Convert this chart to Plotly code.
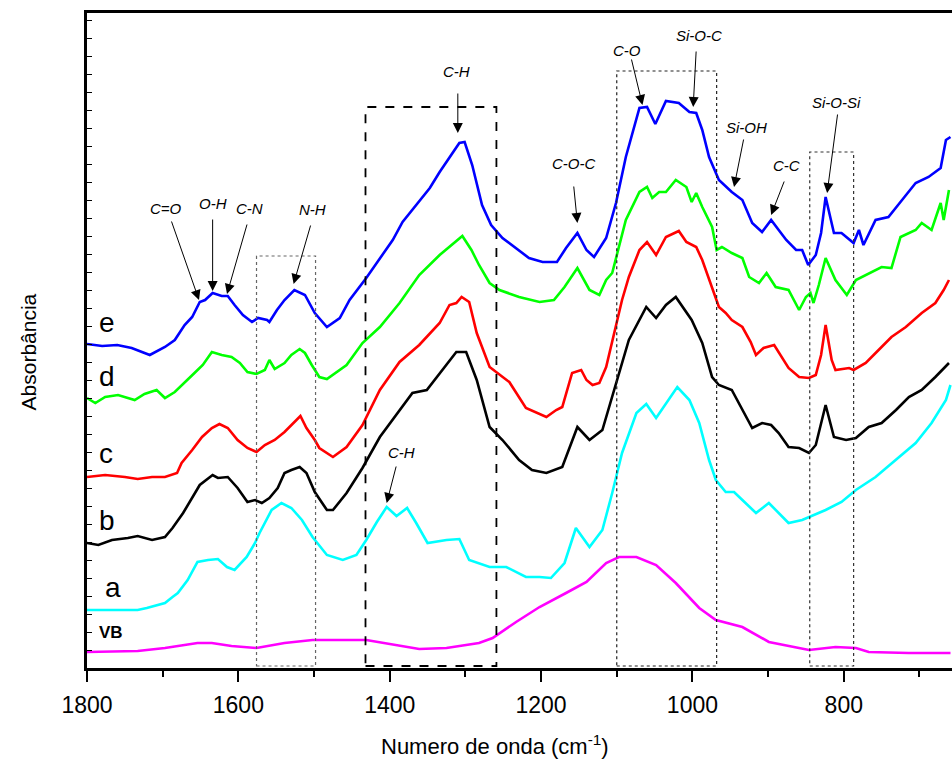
import plotly.graph_objects as go

# ---------------- data (wavenumber, absorbance a.u.) ----------------
wn_e = [1800,1780,1760,1741,1717,1697,1684,1671,1661,1651,1644,1634,1622,1614,1605,1594,1582,1574,1562,1559,1549,1539,1526,1512,1499,1483,1466,1453,1431,1410,1396,1383,1365,1347,1334,1321,1308,1301,1291,1278,1266,1251,1233,1216,1198,1179,1167,1152,1140,1130,1114,1101,1088,1070,1060,1049,1035,1018,1004,995,987,978,965,948,934,921,908,896,886,876,863,855,847,837,830,824,817,813,803,787,780,774,758,741,723,705,688,672,665,659]
ab_e = [0.324,0.322,0.323,0.320,0.313,0.321,0.328,0.343,0.351,0.366,0.368,0.375,0.372,0.372,0.363,0.353,0.346,0.350,0.348,0.346,0.358,0.368,0.378,0.373,0.355,0.341,0.350,0.368,0.390,0.413,0.428,0.446,0.463,0.480,0.496,0.511,0.525,0.526,0.503,0.463,0.443,0.430,0.420,0.410,0.406,0.406,0.420,0.435,0.418,0.411,0.430,0.465,0.511,0.560,0.561,0.544,0.567,0.565,0.556,0.555,0.538,0.511,0.488,0.476,0.468,0.445,0.436,0.448,0.438,0.428,0.418,0.418,0.403,0.413,0.435,0.471,0.448,0.435,0.435,0.425,0.438,0.423,0.448,0.451,0.468,0.485,0.491,0.500,0.528,0.531]

wn_d = [1800,1789,1776,1759,1737,1724,1708,1697,1684,1671,1658,1647,1635,1622,1609,1598,1588,1576,1565,1559,1552,1539,1530,1519,1512,1503,1493,1483,1457,1436,1413,1387,1361,1334,1315,1304,1292,1282,1268,1255,1229,1202,1183,1169,1152,1136,1123,1114,1106,1088,1070,1060,1053,1044,1035,1022,1008,1001,995,987,974,968,961,948,934,925,912,902,890,873,859,850,844,840,833,824,811,796,784,771,750,737,725,705,697,684,672,668,661]
ab_d = [0.270,0.265,0.271,0.273,0.268,0.274,0.278,0.270,0.276,0.286,0.295,0.303,0.316,0.313,0.311,0.305,0.296,0.294,0.298,0.308,0.299,0.305,0.313,0.319,0.315,0.303,0.291,0.289,0.303,0.325,0.341,0.365,0.393,0.413,0.425,0.432,0.418,0.403,0.385,0.378,0.371,0.366,0.368,0.381,0.400,0.378,0.373,0.388,0.395,0.448,0.476,0.481,0.470,0.476,0.476,0.488,0.481,0.466,0.475,0.461,0.441,0.418,0.421,0.415,0.410,0.391,0.385,0.395,0.381,0.378,0.358,0.371,0.375,0.365,0.383,0.410,0.388,0.373,0.388,0.393,0.401,0.400,0.431,0.438,0.445,0.438,0.465,0.448,0.478]

wn_c = [1800,1776,1750,1733,1714,1697,1681,1675,1661,1648,1635,1625,1614,1601,1588,1576,1565,1552,1539,1526,1518,1510,1499,1493,1475,1457,1436,1413,1387,1361,1334,1321,1312,1305,1295,1285,1268,1242,1220,1193,1180,1172,1159,1147,1140,1132,1123,1114,1101,1093,1084,1070,1060,1048,1035,1018,1008,995,987,974,965,956,948,934,923,916,906,892,882,873,859,846,837,830,824,816,811,793,787,771,754,737,718,697,679,668,661]
ab_c = [0.191,0.193,0.191,0.189,0.191,0.191,0.195,0.205,0.218,0.231,0.240,0.244,0.240,0.228,0.220,0.216,0.223,0.228,0.236,0.246,0.252,0.240,0.228,0.220,0.211,0.221,0.243,0.278,0.306,0.323,0.345,0.363,0.365,0.371,0.366,0.335,0.301,0.286,0.260,0.251,0.258,0.261,0.295,0.298,0.288,0.283,0.285,0.301,0.341,0.368,0.391,0.418,0.426,0.413,0.431,0.437,0.426,0.421,0.408,0.381,0.361,0.355,0.348,0.341,0.326,0.313,0.320,0.323,0.311,0.300,0.291,0.290,0.293,0.313,0.343,0.308,0.298,0.300,0.298,0.305,0.318,0.331,0.341,0.355,0.365,0.378,0.388]

wn_b = [1800,1785,1767,1746,1733,1714,1697,1687,1673,1661,1651,1634,1627,1614,1601,1588,1578,1569,1559,1548,1539,1530,1519,1510,1499,1483,1475,1457,1436,1413,1387,1370,1351,1334,1312,1299,1285,1268,1251,1229,1212,1193,1172,1152,1136,1119,1101,1084,1061,1048,1035,1022,1001,987,974,965,948,934,921,908,896,886,873,859,846,837,824,813,797,784,767,750,731,714,697,679,661]
ab_b = [0.125,0.123,0.128,0.130,0.132,0.128,0.131,0.140,0.155,0.170,0.183,0.193,0.190,0.191,0.180,0.166,0.168,0.165,0.170,0.180,0.195,0.198,0.201,0.195,0.176,0.158,0.158,0.175,0.200,0.231,0.258,0.275,0.278,0.295,0.316,0.316,0.288,0.241,0.228,0.208,0.198,0.195,0.201,0.241,0.228,0.238,0.285,0.328,0.361,0.350,0.363,0.371,0.348,0.325,0.291,0.283,0.278,0.258,0.240,0.245,0.243,0.235,0.221,0.220,0.215,0.223,0.263,0.231,0.228,0.230,0.241,0.245,0.258,0.271,0.278,0.291,0.305]

wn_a = [1800,1767,1733,1721,1697,1687,1680,1667,1654,1640,1627,1615,1605,1589,1578,1572,1565,1556,1543,1530,1516,1502,1483,1462,1444,1431,1417,1404,1391,1377,1365,1350,1325,1308,1295,1282,1268,1246,1220,1202,1187,1169,1154,1136,1119,1106,1093,1074,1061,1048,1035,1020,1004,991,978,969,956,945,934,916,899,886,873,855,846,824,803,784,758,731,705,684,665,659]
ab_a = [0.058,0.058,0.058,0.060,0.065,0.071,0.075,0.088,0.106,0.108,0.109,0.101,0.098,0.111,0.125,0.135,0.145,0.158,0.165,0.160,0.148,0.131,0.113,0.108,0.113,0.128,0.146,0.161,0.152,0.160,0.145,0.125,0.128,0.129,0.108,0.105,0.101,0.101,0.091,0.091,0.090,0.105,0.140,0.121,0.138,0.175,0.215,0.255,0.264,0.250,0.265,0.281,0.268,0.245,0.208,0.188,0.176,0.176,0.168,0.155,0.165,0.155,0.145,0.148,0.151,0.158,0.166,0.178,0.191,0.208,0.225,0.245,0.268,0.283]

wn_vb = [1800,1733,1697,1654,1635,1609,1576,1539,1502,1431,1361,1325,1282,1264,1233,1202,1167,1140,1114,1097,1074,1048,1022,991,969,934,899,846,811,784,767,714,659]
ab_vb = [0.016,0.017,0.020,0.025,0.025,0.022,0.020,0.025,0.028,0.028,0.019,0.020,0.025,0.030,0.046,0.061,0.075,0.086,0.105,0.111,0.111,0.103,0.085,0.060,0.048,0.041,0.026,0.018,0.021,0.020,0.016,0.015,0.015]

series_names = ["e", "d", "c", "b", "a", "VB"]
series_colors = ["#0000FF", "#00FF00", "#FF0000", "#000000", "#00FFFF", "#FF00FF"]
series_x = [wn_e, wn_d, wn_c, wn_b, wn_a, wn_vb]
series_y = [ab_e, ab_d, ab_c, ab_b, ab_a, ab_vb]

# curve labels: (text, wavenumber, absorbance)
curve_labels = [("e", 1787, 0.346), ("d", 1787, 0.292), ("c", 1787, 0.215),
                ("b", 1787, 0.148), ("a", 1779, 0.081)]
vb_label = ("VB", 1787, 0.036)

# band annotations: text, text pos (wn, A), arrow tail (wn, A), arrow tip (wn, A)
bands = [
    ("C=O",     1696, 0.460, 1689, 0.448, 1652, 0.368),
    ("O-H",     1634, 0.465, 1634, 0.450, 1634, 0.377),
    ("C-N",     1585, 0.460, 1588, 0.445, 1615, 0.374),
    ("N-H",     1502, 0.459, 1504, 0.444, 1527, 0.384),
    ("C-H",     1312, 0.597, 1310, 0.576, 1310, 0.535),
    ("C-O-C",   1157, 0.505, 1157, 0.483, 1152, 0.445),
    ("C-O",     1086, 0.618, 1081, 0.610, 1066, 0.563),
    ("Si-O-C",   991, 0.633,  995, 0.618,  999, 0.561),
    ("Si-OH",    928, 0.541,  932, 0.530,  945, 0.481),
    ("C-C",      876, 0.503,  878, 0.488,  896, 0.453),
    ("Si-O-Si",  809, 0.566,  808, 0.555,  822, 0.475),
    ("C-H",     1384, 0.216, 1391, 0.203, 1404, 0.165),
]

# highlighted regions: (wn_start, wn_end, A_top, dash, color, width)
regions = [
    (1576, 1498, 0.412, "dot", "#666666", 1.2),
    (1432, 1259, 0.561, "dash", "#000000", 1.8),
    (1100, 968, 0.597, "dot", "#222222", 1.2),
    (845, 787, 0.516, "dot", "#333333", 1.2),
]

FONT = "Liberation Sans, Arial, sans-serif"

fig = go.Figure()
for name, col, xs, ys in zip(series_names, series_colors, series_x, series_y):
    fig.add_trace(go.Scatter(x=xs, y=ys, mode="lines", name=name,
                             line=dict(color=col, width=2.6), showlegend=False))

for x0, x1, top, dash, col, w in regions:
    fig.add_shape(type="rect", x0=x0, x1=x1, y0=0.002, y1=top, xref="x", yref="y",
                  line=dict(color=col, width=w, dash=dash), fillcolor="rgba(0,0,0,0)")

ann = []
for t, x, y in curve_labels:
    ann.append(dict(text=t, x=x, y=y, xref="x", yref="y", showarrow=False,
                    xanchor="left", yanchor="middle",
                    font=dict(family=FONT, size=28, color="black")))
ann.append(dict(text="<b>%s</b>" % vb_label[0], x=vb_label[1], y=vb_label[2], xref="x", yref="y",
                showarrow=False, xanchor="left", yanchor="middle",
                font=dict(family=FONT, size=17, color="black")))

for t, tx, ty, ax, ay, hx, hy in bands:
    ann.append(dict(text="<i>%s</i>" % t, x=tx, y=ty, xref="x", yref="y", showarrow=False,
                    xanchor="center", yanchor="middle",
                    font=dict(family=FONT, size=15, color="black")))
    ann.append(dict(text="", x=hx, y=hy, ax=ax, ay=ay, xref="x", yref="y",
                    axref="x", ayref="y", showarrow=True, arrowhead=2, arrowsize=2.0,
                    arrowwidth=1.0, arrowcolor="black", standoff=0))

ann.append(dict(text="Numero de onda (cm<sup>-1</sup>)", x=0.472, y=-0.117, xref="paper", yref="paper",
                showarrow=False, xanchor="center", yanchor="middle",
                font=dict(family=FONT, size=22, color="black")))
ann.append(dict(text="Absorbância", x=-0.068, y=0.482, xref="paper", yref="paper",
                showarrow=False, xanchor="center", yanchor="middle", textangle=-90,
                font=dict(family=FONT, size=21, color="black")))

fig.update_layout(
    width=952, height=767,
    margin=dict(l=87, r=0, t=13, b=99),
    paper_bgcolor="white", plot_bgcolor="white",
    annotations=ann,
    xaxis=dict(range=[1800, 657], showgrid=False, zeroline=False,
               showline=True, linecolor="black", linewidth=2.5, mirror=True,
               ticks="outside", ticklen=11, tickwidth=2, tickcolor="black",
               tickmode="array", tickvals=[1800, 1600, 1400, 1200, 1000, 800],
               ticktext=["1800", "1600", "1400", "1200", "1000", "800"],
               ticklabelstandoff=4,
               minor=dict(tickvals=[1700, 1500, 1300, 1100, 900, 700], ticks="outside",
                          ticklen=6, tickwidth=2, tickcolor="black"),
               tickfont=dict(family=FONT, size=23, color="black")),
    yaxis=dict(range=[0, 0.655], showgrid=False, zeroline=False,
               showline=True, linecolor="black", linewidth=2.5,
               ticks="inside", ticklen=5, tickwidth=1.2, tickcolor="black",
               dtick=0.018, tick0=0, showticklabels=False),
)

fig.write_html("out.html", config={"displayModeBar": False},
               post_script="document.body.style.margin='0';document.body.style.padding='0';"
                           "document.body.style.overflow='hidden';")
